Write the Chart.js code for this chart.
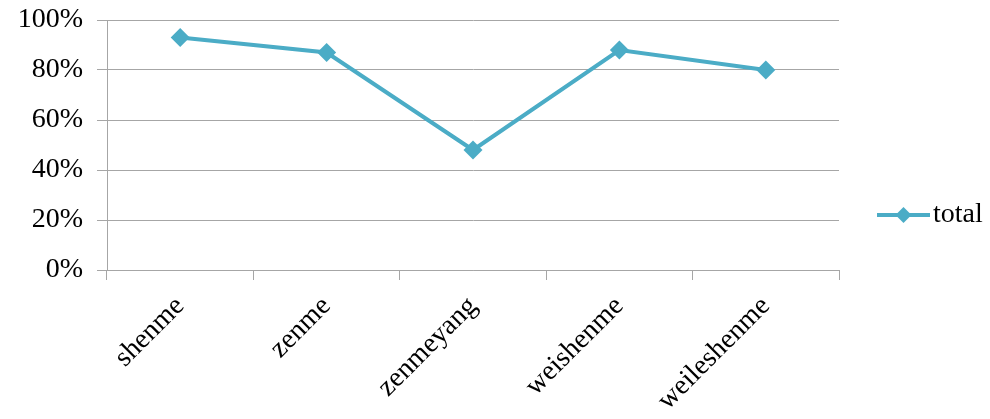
<!DOCTYPE html>
<html>
<head>
<meta charset="utf-8">
<script src="https://cdn.jsdelivr.net/npm/chart.js@4/dist/chart.umd.min.js"></script>
<style>
  html, body { margin: 0; padding: 0; background: #fff; }
  canvas { display: block; }
</style>
</head>
<body>
<canvas id="chart" width="990" height="419"></canvas>
<script>
// question words and share of answers
const categories = ['shenme', 'zenme', 'zenmeyang', 'weishenme', 'weileshenme'];
const totalValues = [93, 87, 48, 88, 80];
const yTicks = [0, 20, 40, 60, 80, 100];

const seriesColor = '#4bacc6';
const gridColor = '#a6a6a6';
const serif = "'Liberation Serif', 'Times New Roman', serif";

// legend on the right: short line with a diamond, then the series name
const lineLegend = {
    id: 'lineLegend',
    afterDraw(chart) {
        const ctx = chart.ctx;
        const ds = chart.data.datasets[0];
        const y = 215;
        const x0 = 877, x1 = 930;
        ctx.save();
        ctx.strokeStyle = ds.borderColor;
        ctx.lineWidth = ds.borderWidth;
        ctx.beginPath();
        ctx.moveTo(x0, y);
        ctx.lineTo(x1, y);
        ctx.stroke();
        const cx = (x0 + x1) / 2, r = 8;
        ctx.fillStyle = ds.pointBackgroundColor;
        ctx.beginPath();
        ctx.moveTo(cx - r, y);
        ctx.lineTo(cx, y - r);
        ctx.lineTo(cx + r, y);
        ctx.lineTo(cx, y + r);
        ctx.closePath();
        ctx.fill();
        ctx.fillStyle = '#000';
        ctx.font = '28px ' + serif;
        ctx.textBaseline = 'middle';
        ctx.textAlign = 'left';
        ctx.fillText(ds.label, x1 + 3, y);
        ctx.restore();
    }
};

new Chart(document.getElementById('chart').getContext('2d'), {
    type: 'line',
    data: {
        labels: categories,
        datasets: [{
            label: 'total',
            data: totalValues,
            borderColor: seriesColor,
            backgroundColor: seriesColor,
            borderWidth: 4,
            pointStyle: 'rectRot',
            pointRadius: 9.5,
            pointBorderWidth: 0,
            pointBackgroundColor: seriesColor,
            tension: 0
        }]
    },
    options: {
        responsive: false,
        animation: false,
        devicePixelRatio: 1,
        layout: { padding: { left: 0, right: 151, top: 20, bottom: 0 } },
        plugins: {
            legend: { display: false },
            tooltip: { enabled: false }
        },
        scales: {
            x: {
                offset: true,
                grid: {
                    offset: true,
                    drawOnChartArea: false,
                    drawTicks: true,
                    tickLength: 10,
                    color: gridColor
                },
                border: { color: gridColor },
                ticks: {
                    color: '#000',
                    font: { family: serif, size: 28 },
                    maxRotation: 45,
                    minRotation: 45,
                    padding: 10,
                    autoSkip: false
                },
                afterFit(scale) {
                    scale.height = 149;
                    scale.paddingLeft = 0;
                    scale.paddingRight = 0;
                }
            },
            y: {
                min: 0,
                max: 100,
                afterBuildTicks(scale) {
                    scale.ticks = yTicks.map(v => ({ value: v }));
                },
                grid: {
                    color: gridColor,
                    tickLength: 10,
                    drawTicks: true
                },
                border: { color: gridColor },
                ticks: {
                    color: '#000',
                    font: { family: serif, size: 28 },
                    padding: 14,
                    callback: v => v + '%'
                },
                afterFit(scale) {
                    scale.width = 107;
                    scale.paddingTop = 0;
                    scale.paddingBottom = 0;
                }
            }
        }
    },
    plugins: [lineLegend]
});
</script>
</body>
</html>
